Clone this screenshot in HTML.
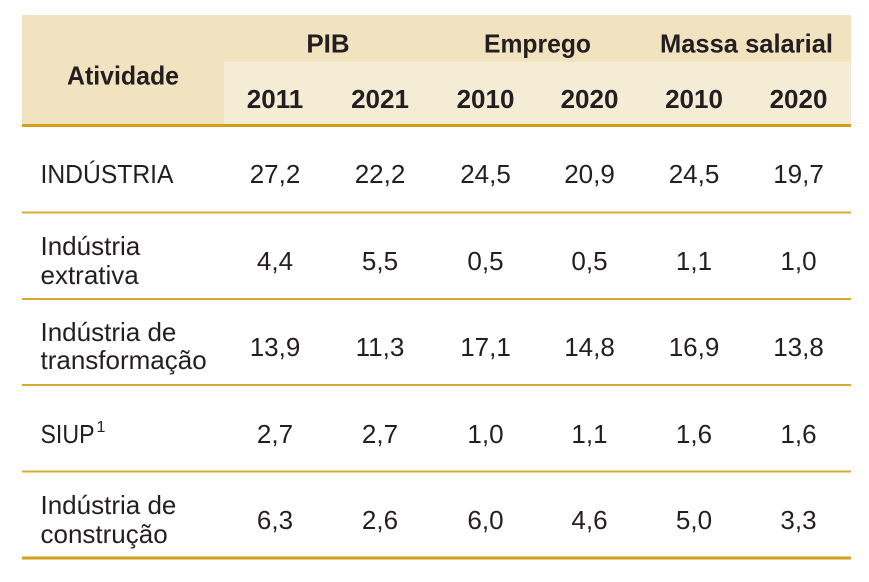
<!DOCTYPE html>
<html>
<head>
<meta charset="utf-8">
<style>
html,body{margin:0;padding:0;background:#ffffff;}
body{width:869px;height:582px;overflow:hidden;}
svg{display:block;}
text{font-family:"Liberation Sans",Arial,sans-serif;fill:#231f20;}
.h{font-weight:bold;font-size:26px;}
.b{font-size:26px;}
.n{font-size:26px;text-anchor:middle;}
</style>
</head>
<body>
<svg width="869" height="582" viewBox="0 0 869 582" xmlns="http://www.w3.org/2000/svg">
  <!-- header bands -->
  <rect x="22" y="15" width="829" height="110" fill="#f1e2c0"/>
  <rect x="224" y="62" width="627" height="63" fill="#f5ecd6"/>
  <!-- thick header line -->
  <rect x="22" y="124" width="829" height="3" fill="#d4a01c"/>

  <!-- header text -->
  <text class="h" x="123" y="84.5" text-anchor="middle" textLength="112" lengthAdjust="spacingAndGlyphs">Atividade</text>
  <text class="h" x="328" y="52.5" text-anchor="middle">PIB</text>
  <text class="h" x="537.5" y="52.5" text-anchor="middle" textLength="107" lengthAdjust="spacingAndGlyphs">Emprego</text>
  <text class="h" x="746.5" y="52.5" text-anchor="middle" textLength="173" lengthAdjust="spacingAndGlyphs">Massa salarial</text>

  <text class="h" x="275" y="108" text-anchor="middle">2011</text>
  <text class="h" x="380" y="108" text-anchor="middle">2021</text>
  <text class="h" x="485.5" y="108" text-anchor="middle">2010</text>
  <text class="h" x="589.5" y="108" text-anchor="middle">2020</text>
  <text class="h" x="694" y="108" text-anchor="middle">2010</text>
  <text class="h" x="798.5" y="108" text-anchor="middle">2020</text>

  <!-- row lines -->
  <rect x="22" y="211.5" width="829" height="2" fill="#d9a935"/>
  <rect x="22" y="298" width="829" height="2" fill="#d9a935"/>
  <rect x="22" y="384" width="829" height="2" fill="#d9a935"/>
  <rect x="22" y="470.5" width="829" height="2" fill="#d9a935"/>
  <rect x="22" y="556.5" width="829" height="3" fill="#d4a01c"/>

  <!-- Row 1 -->
  <text class="b" x="40.5" y="183" textLength="133" lengthAdjust="spacingAndGlyphs">INDÚSTRIA</text>
  <text class="n" x="275" y="183">27,2</text>
  <text class="n" x="380" y="183">22,2</text>
  <text class="n" x="485.5" y="183">24,5</text>
  <text class="n" x="589.5" y="183">20,9</text>
  <text class="n" x="694" y="183">24,5</text>
  <text class="n" x="798.5" y="183">19,7</text>

  <!-- Row 2 -->
  <text class="b" x="40.5" y="255">Indústria</text>
  <text class="b" x="40.5" y="284">extrativa</text>
  <text class="n" x="275" y="270">4,4</text>
  <text class="n" x="380" y="270">5,5</text>
  <text class="n" x="485.5" y="270">0,5</text>
  <text class="n" x="589.5" y="270">0,5</text>
  <text class="n" x="694" y="270">1,1</text>
  <text class="n" x="798.5" y="270">1,0</text>

  <!-- Row 3 -->
  <text class="b" x="40.5" y="341">Indústria de</text>
  <text class="b" x="40.5" y="369">transformação</text>
  <text class="n" x="275" y="356">13,9</text>
  <text class="n" x="380" y="356">11,3</text>
  <text class="n" x="485.5" y="356">17,1</text>
  <text class="n" x="589.5" y="356">14,8</text>
  <text class="n" x="694" y="356">16,9</text>
  <text class="n" x="798.5" y="356">13,8</text>

  <!-- Row 4 -->
  <text class="b" x="40.5" y="443" textLength="54" lengthAdjust="spacingAndGlyphs">SIUP</text>
  <text x="96.5" y="432" style="font-size:16px;">1</text>
  <text class="n" x="275" y="443">2,7</text>
  <text class="n" x="380" y="443">2,7</text>
  <text class="n" x="485.5" y="443">1,0</text>
  <text class="n" x="589.5" y="443">1,1</text>
  <text class="n" x="694" y="443">1,6</text>
  <text class="n" x="798.5" y="443">1,6</text>

  <!-- Row 5 -->
  <text class="b" x="40.5" y="514">Indústria de</text>
  <text class="b" x="40.5" y="543">construção</text>
  <text class="n" x="275" y="529">6,3</text>
  <text class="n" x="380" y="529">2,6</text>
  <text class="n" x="485.5" y="529">6,0</text>
  <text class="n" x="589.5" y="529">4,6</text>
  <text class="n" x="694" y="529">5,0</text>
  <text class="n" x="798.5" y="529">3,3</text>
</svg>
</body>
</html>
